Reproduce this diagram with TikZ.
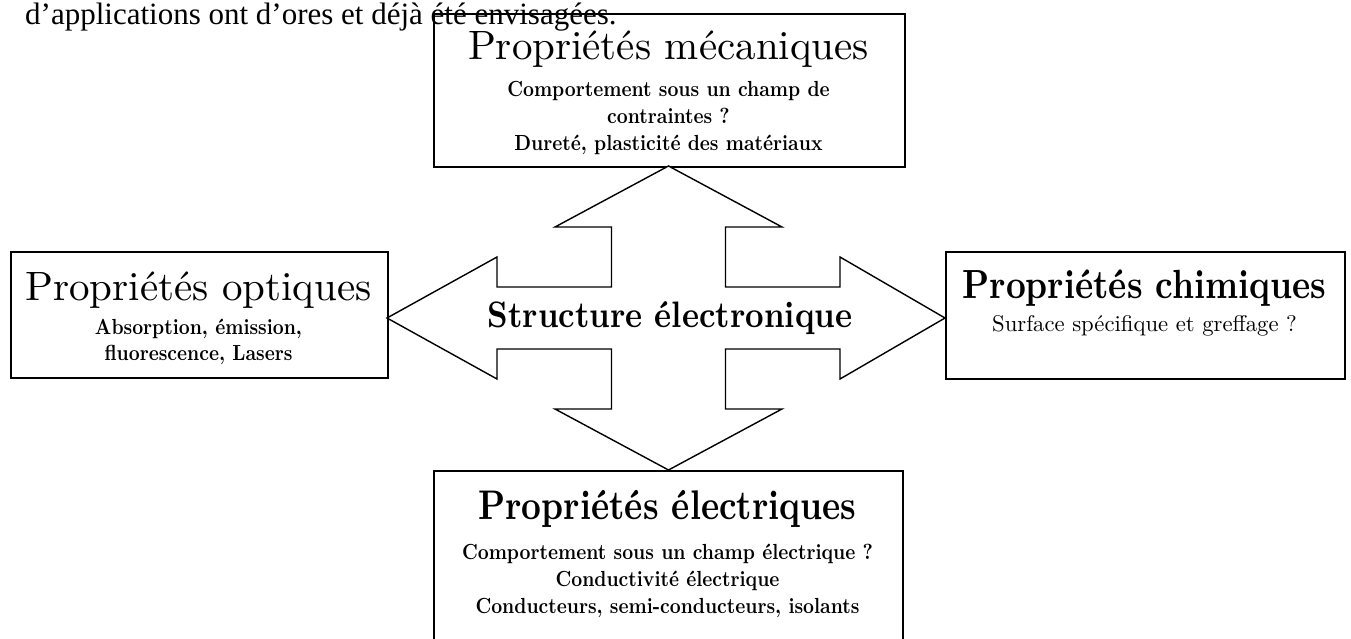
\documentclass[tikz,border=0pt]{standalone}
\usepackage{fontspec}
\newfontfamily\timesf{Liberation Serif}
\newfontfamily\lmten{lmroman10-regular.otf}
\newfontfamily\lmbold{lmroman10-bold.otf}
\usepackage{graphicx}
\tikzset{
  box/.style={draw=black, line width=1.8pt, inner sep=0pt, anchor=north west},
  cross/.style={draw=black, line width=1.4pt, line join=miter, fill=white},
  ttl/.style={inner sep=0pt, anchor=base, font=\lmten\fontsize{41}{41}\selectfont},
  bttl/.style={inner sep=0pt, anchor=base, font=\lmbold\fontsize{34.5}{34.5}\selectfont},
  sub/.style={inner sep=0pt, anchor=base, font=\lmbold\fontsize{19}{19}\selectfont},
  rsub/.style={inner sep=0pt, anchor=base, font=\lmten\fontsize{22.7}{22.7}\selectfont},
  ctr/.style={inner sep=0pt, anchor=base, font=\lmbold\fontsize{32.3}{32.3}\selectfont},
  top/.style={inner sep=0pt, anchor=base west, font=\timesf\fontsize{31}{31}\selectfont}
}
\begin{document}
\begin{tikzpicture}[x=1pt,y=-1pt]
\path[use as bounding box] (0,0) rectangle (1351,639);
\clip (0,0) rectangle (1351,639);
% boxes
\node[box, minimum width=471pt, minimum height=153pt] (mec) at (433,13) {};
\node[box, minimum width=377pt, minimum height=126pt] (opt) at (10,251) {};
\node[box, minimum width=399pt, minimum height=127pt] (chi) at (945,251) {};
\node[box, minimum width=469pt, minimum height=200pt] (ele) at (433,470) {};
% cross arrow
\draw[cross] (668.5,166) -- (782,227) -- (725.5,227) -- (725.5,287) -- (840,287) -- (840,257)
  -- (945,318) -- (840,379) -- (840,349) -- (725.5,349) -- (725.5,409) -- (782,409)
  -- (668.5,470) -- (555,409) -- (611.5,409) -- (611.5,349) -- (497,349) -- (497,379)
  -- (387,318) -- (497,257) -- (497,287) -- (611.5,287) -- (611.5,227) -- (555,227) -- cycle;
% top text
\node[top] (intro) at (25,25) {d’applications ont d’ores et déjà été envisagées.};
% mecaniques
\node[ttl] (mect) at (668.5,60) {Propriétés mécaniques};
\node[sub] (mec1) at (668.5,97) {\scalebox{1}[1.15]{Comportement sous un champ de}};
\node[sub] (mec2) at (668.5,124) {\scalebox{1}[1.15]{contraintes ?}};
\node[sub] (mec3) at (668.5,151) {\scalebox{1}[1.15]{Dureté, plasticité des matériaux}};
% optiques
\node[ttl] (optt) at (198.5,300) {Propriétés optiques};
\node[sub] (opt1) at (198.5,334) {\scalebox{1}[1.15]{Absorption, émission,}};
\node[sub] (opt2) at (198.5,360) {\scalebox{1}[1.15]{fluorescence, Lasers}};
% chimiques
\node[bttl] (chit) at (1144.5,298) {\scalebox{1}[1.18]{Propriétés chimiques}};
\node[rsub] (chi1) at (1144.5,331) {Surface spécifique et greffage ?};
% electriques
\node[bttl] (elet) at (667.5,519) {\scalebox{1}[1.2]{Propriétés électriques}};
\node[sub] (ele1) at (667.5,559) {\scalebox{1}[1.15]{Comportement sous un champ électrique ?}};
\node[sub] (ele2) at (667.5,586) {\scalebox{1}[1.15]{Conductivité électrique}};
\node[sub] (ele3) at (667.5,613) {\scalebox{1}[1.15]{Conducteurs, semi-conducteurs, isolants}};
% centre
\node[ctr] (str) at (670,327) {\scalebox{1}[1.14]{Structure électronique}};
\end{tikzpicture}
\end{document}
